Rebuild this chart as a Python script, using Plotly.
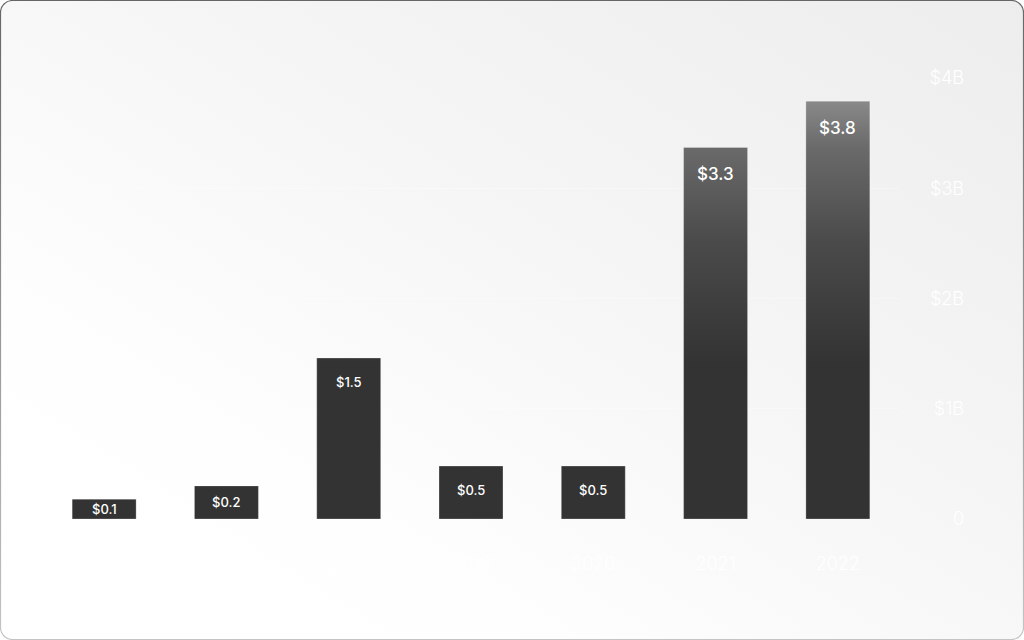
# -*- coding: utf-8 -*-
"""
Annual totals bar chart (billions of dollars), gradient bars on a soft grey card.
"""

import base64
import plotly.graph_objects as go

# data
years = ["2016", "2017", "2018", "2019", "2020", "2021", "2022"]
values = [0.18, 0.30, 1.46, 0.48, 0.48, 3.37, 3.79]
labels = ["$0.1", "$0.2", "$1.5", "$0.5", "$0.5", "$3.3", "$3.8"]
y_ticks = [0, 1, 2, 3, 4]
y_tick_text = ["0", "$1B", "$2B", "$3B", "$4B"]

# page geometry
W, H = 1024, 640
M_L, M_R, M_T, M_B = 43, 58, 78, 121
PLOT_W = W - M_L - M_R
PLOT_H = H - M_T - M_B
X_DOMAIN_END = (899 - M_L) / PLOT_W
Y_MAX = 4
BAR_W = 0.523

# card background (gradient + rounded border) as an inline svg
svg = f"""<svg xmlns='http://www.w3.org/2000/svg' width='{W}' height='{H}' viewBox='0 0 {W} {H}' preserveAspectRatio='none'>
<defs>
<linearGradient id='bg' x1='0' y1='1' x2='1' y2='0'>
<stop offset='0' stop-color='#ffffff'/>
<stop offset='0.26' stop-color='#fefefe'/>
<stop offset='0.6' stop-color='#f5f5f5'/>
<stop offset='1' stop-color='#ededed'/>
</linearGradient>
<linearGradient id='bd' x1='0' y1='0' x2='0' y2='1'>
<stop offset='0' stop-color='#666666'/>
<stop offset='1' stop-color='#c4c4c4'/>
</linearGradient>
</defs>
<rect x='0.5' y='0.5' width='{W - 1}' height='{H - 1}' rx='12' ry='12' fill='url(#bg)' stroke='url(#bd)' stroke-width='1.2'/>
</svg>"""
svg_uri = "data:image/svg+xml;base64," + base64.b64encode(svg.encode("utf-8")).decode("ascii")

# bars as filled polygons so they can take a vertical gradient
bx, by = [], []
for i, v in enumerate(values):
    x0, x1 = i - BAR_W / 2, i + BAR_W / 2
    bx += [x0, x0, x1, x1, x0, None]
    by += [0, v, v, 0, 0, None]

fig = go.Figure()
fig.add_trace(
    go.Scatter(
        x=bx,
        y=by,
        mode="lines",
        fill="toself",
        line=dict(color="rgba(255,255,255,0.25)", width=1),
        fillgradient=dict(
            type="vertical",
            colorscale=[[0, "#333333"], [0.46, "#4a4a4a"], [0.82, "#6a6a6a"], [1, "#8a8a8a"]],
            start=1.4,
            stop=3.8,
        ),
        hoverinfo="skip",
        showlegend=False,
    )
)

# value labels inside the top of each bar
px_per_unit = PLOT_H / Y_MAX
annotations = []
for i, (v, lab) in enumerate(zip(values, labels)):
    big = v > 3
    offset = min(27 if big else 24, v * px_per_unit / 2)
    annotations.append(
        dict(
            x=i,
            y=v,
            xref="x",
            yref="y",
            text=lab,
            showarrow=False,
            yanchor="middle",
            yshift=-offset,
            font=dict(family="Inter", size=17 if big else 13, color="#ffffff", weight=500),
        )
    )

fig.update_layout(
    width=W,
    height=H,
    margin=dict(l=M_L, r=M_R, t=M_T, b=M_B, pad=0),
    paper_bgcolor="#ffffff",
    plot_bgcolor="rgba(0,0,0,0)",
    showlegend=False,
    images=[
        dict(
            source=svg_uri,
            xref="paper",
            yref="paper",
            x=-M_L / PLOT_W,
            y=1 + M_T / PLOT_H,
            sizex=W / PLOT_W,
            sizey=H / PLOT_H,
            xanchor="left",
            yanchor="top",
            sizing="stretch",
            layer="below",
        )
    ],
    xaxis=dict(
        domain=[0, X_DOMAIN_END],
        range=[-0.5, len(years) - 0.5],
        tickvals=list(range(len(years))),
        ticktext=years,
        showgrid=False,
        zeroline=False,
        showline=False,
        ticks="",
        ticklabelstandoff=32,
        tickfont=dict(family="Inter", size=18, color="#ffffff", weight=300),
        fixedrange=True,
    ),
    yaxis=dict(
        range=[0, Y_MAX],
        anchor="free",
        position=1,
        side="left",
        tickvals=y_ticks,
        ticktext=y_tick_text,
        showgrid=True,
        gridcolor="rgba(255,255,255,0.3)",
        gridwidth=1,
        zeroline=False,
        showline=False,
        ticks="",
        ticklabelstandoff=2,
        tickfont=dict(family="Inter", size=18, color="#ffffff", weight=300),
        fixedrange=True,
    ),
    annotations=annotations,
)

# drop the browser's default body margin so the card sits at the page corner
fig.write_html(
    "out.html",
    config={"displayModeBar": False},
    post_script="document.body.style.margin='0';",
)
